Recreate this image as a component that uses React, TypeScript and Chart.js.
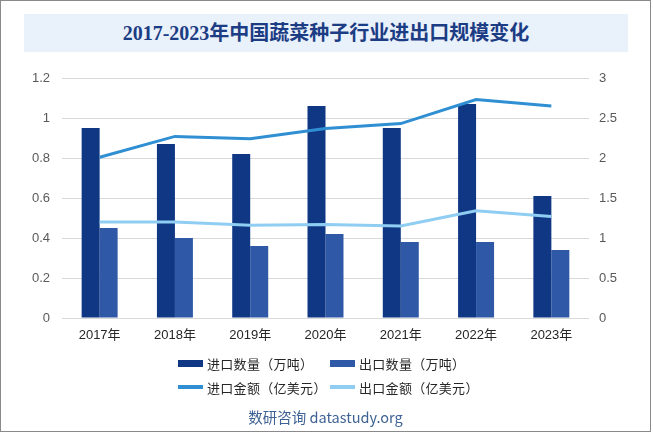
import React, { useEffect, useRef } from "react";
import { Chart, registerables } from "chart.js";

Chart.register(...registerables);

const categories = ["2017年", "2018年", "2019年", "2020年", "2021年", "2022年", "2023年"];
const importVolume = [0.95, 0.87, 0.82, 1.06, 0.95, 1.07, 0.61];
const exportVolume = [0.45, 0.4, 0.36, 0.42, 0.38, 0.38, 0.34];
const importValue = [2.01, 2.27, 2.24, 2.37, 2.43, 2.73, 2.65];
const exportValue = [1.2, 1.2, 1.16, 1.17, 1.15, 1.34, 1.27];
const seriesNames = ["进口数量（万吨）", "出口数量（万吨）", "进口金额（亿美元）", "出口金额（亿美元）"];
const titleText = "2017-2023年中国蔬菜种子行业进出口规模变化";
const footerText = "数研咨询 datastudy.org";

const C_IMP_BAR = "#0f3784";
const C_EXP_BAR = "#2f59a6";
const C_IMP_LINE = "#2f8fd2";
const C_EXP_LINE = "#8fcdf2";

export default function App() {
  const ref = useRef<HTMLCanvasElement | null>(null);

  useEffect(() => {
    document.body.style.margin = "0";
    const canvas = ref.current!;
    const chart = new Chart(canvas, {
      type: "bar",
      data: {
        labels: categories,
        datasets: [
          {
            type: "line",
            label: seriesNames[2],
            data: importValue,
            yAxisID: "y1",
            borderColor: C_IMP_LINE,
            backgroundColor: C_IMP_LINE,
            borderWidth: 3,
            pointRadius: 0,
            tension: 0,
            order: 0,
          },
          {
            type: "line",
            label: seriesNames[3],
            data: exportValue,
            yAxisID: "y1",
            borderColor: C_EXP_LINE,
            backgroundColor: C_EXP_LINE,
            borderWidth: 3,
            pointRadius: 0,
            tension: 0,
            order: 0,
          },
          {
            type: "bar",
            label: seriesNames[0],
            data: importVolume,
            yAxisID: "y",
            backgroundColor: C_IMP_BAR,
            categoryPercentage: 0.478,
            barPercentage: 1,
            order: 1,
          },
          {
            type: "bar",
            label: seriesNames[1],
            data: exportVolume,
            yAxisID: "y",
            backgroundColor: C_EXP_BAR,
            categoryPercentage: 0.478,
            barPercentage: 1,
            order: 1,
          },
        ] as any,
      },
      options: {
        responsive: false,
        animation: false,
        layout: { padding: { left: 22, right: 24, top: 78, bottom: 84 } },
        plugins: {
          legend: { display: false },
          title: { display: false },
          tooltip: { enabled: false },
        },
        scales: {
          x: {
            grid: { display: false, drawTicks: false },
            border: { display: false },
            ticks: {
              padding: 10,
              color: "#262626",
              font: { family: "'Liberation Sans', Arial, 'Noto Sans CJK SC'", size: 13 },
            },
            afterFit: (s: any) => {
              s.height = 30;
            },
          },
          y: {
            position: "left",
            min: 0,
            max: 1.2,
            ticks: {
              stepSize: 0.2,
              padding: 12,
              color: "#595959",
              font: { family: "'Liberation Sans', Arial", size: 13 },
              callback: (v: any) => String(Math.round(Number(v) * 10) / 10),
            },
            grid: { color: "#d9d9d9", lineWidth: 1, drawTicks: false },
            border: { display: false },
            afterFit: (s: any) => {
              s.width = 40;
            },
          },
          y1: {
            position: "right",
            min: 0,
            max: 3,
            ticks: {
              stepSize: 0.5,
              padding: 10,
              color: "#595959",
              font: { family: "'Liberation Sans', Arial", size: 13 },
              callback: (v: any) => String(Math.round(Number(v) * 10) / 10),
            },
            grid: { display: false, drawTicks: false },
            border: { display: false },
            afterFit: (s: any) => {
              s.width = 40;
            },
          },
        },
      } as any,
    });
    return () => chart.destroy();
  }, []);

  const legendFont = "'Noto Sans CJK SC', 'Noto Sans', sans-serif";
  const itemStyle = (left: number, top: number): React.CSSProperties => ({
    position: "absolute",
    left,
    top: top - 10,
    height: 20,
    display: "flex",
    alignItems: "center",
    fontFamily: legendFont,
    fontSize: 13,
    letterSpacing: 0.3,
    color: "#262626",
    whiteSpace: "nowrap",
  });
  const swatch = (color: string, h: number): React.CSSProperties => ({
    width: 25,
    height: h,
    background: color,
    marginRight: 4,
    flex: "none",
  });

  return (
    <div style={{ position: "relative", width: 653, height: 432, background: "#fff", overflow: "hidden" }}>
      <div
        style={{
          position: "absolute",
          left: 0,
          top: 0,
          width: 651,
          height: 432,
          border: "1px solid #8a8a8a",
          boxSizing: "border-box",
        }}
      />
      <div
        style={{
          position: "absolute",
          left: 24,
          top: 14,
          width: 604,
          height: 38,
          background: "#e9f1fb",
          lineHeight: "38px",
          textAlign: "center",
          fontFamily: "'Liberation Serif', 'Noto Sans CJK SC', serif",
          fontWeight: "bold",
          fontSize: 20,
          color: "#1c3c84",
          whiteSpace: "nowrap",
        }}
      >
        {titleText}
      </div>
      <canvas
        ref={ref}
        width={653}
        height={432}
        style={{ position: "absolute", left: 0, top: 0, width: 653, height: 432 }}
      />
      <div style={itemStyle(178, 363)}>
        <span style={swatch(C_IMP_BAR, 7)} />
        <span>{seriesNames[0]}</span>
      </div>
      <div style={itemStyle(330, 363)}>
        <span style={swatch(C_EXP_BAR, 7)} />
        <span>{seriesNames[1]}</span>
      </div>
      <div style={itemStyle(178, 387)}>
        <span style={swatch(C_IMP_LINE, 4)} />
        <span>{seriesNames[2]}</span>
      </div>
      <div style={itemStyle(330, 387)}>
        <span style={swatch(C_EXP_LINE, 4)} />
        <span>{seriesNames[3]}</span>
      </div>
      <div
        style={{
          position: "absolute",
          left: 0,
          width: 651,
          top: 405,
          height: 24,
          lineHeight: "24px",
          textAlign: "center",
          fontFamily: "'Noto Sans CJK SC', 'Noto Sans', sans-serif",
          fontSize: 14.5,
          color: "#3f6294",
        }}
      >
        {footerText}
      </div>
    </div>
  );
}
